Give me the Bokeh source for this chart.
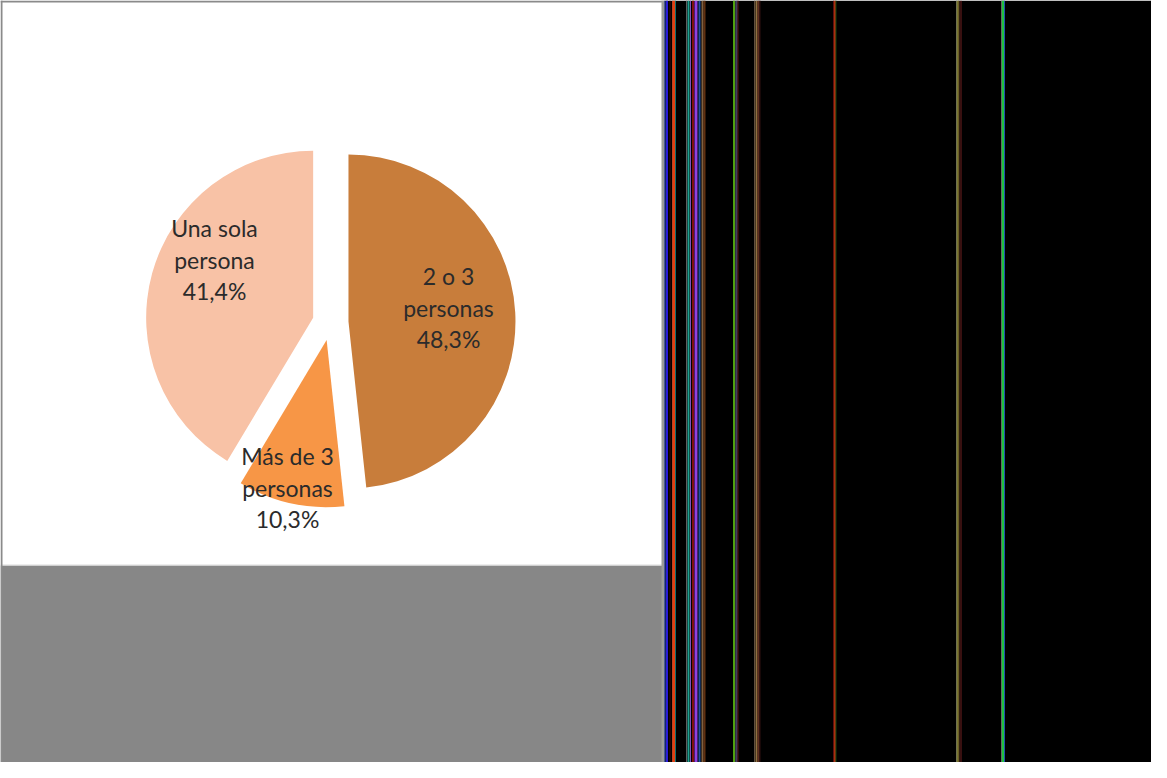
import numpy as np
from bokeh.plotting import figure
from bokeh.models import Range1d, ColumnDataSource
from bokeh.core.properties import value
from bokeh.embed import file_html
from bokeh.resources import INLINE

# ---- data ----
categories = ["2 o 3 personas", "Más de 3 personas", "Una sola persona"]
label_lines = [["2 o 3", "personas"], ["Más de 3", "personas"], ["Una sola", "persona"]]
percent_labels = ["48,3%", "10,3%", "41,4%"]
shares = [48.3, 10.3, 41.4]
colors = ["#C87D3B", "#F79646", "#F8C2A6"]

# decorative vertical stripes in the dark panel (page x, width px, colour)
stripe_x = [672.5, 674.5, 677.5, 680.0, 681.5, 683.0, 694.0, 696.0, 698.0, 700.5, 703.5, 707.0, 710.0, 712.0,
            741.5, 743.5, 744.5, 745.5, 762.0, 764.0, 766.0, 767.5, 841.0, 842.5, 843.5,
            964.0, 965.5, 966.5, 968.5, 1009.0, 1010.5, 1012.0]
stripe_w = [1, 2, 1, 1, 2, 1, 1, 2, 1, 2, 3, 2, 2, 2,
            2, 1, 1, 1, 1, 2, 2, 1, 1, 1.5, 1,
            1, 1.5, 1, 1, 1, 2, 1]
stripe_c = ["#3050c0", "#2a1cd8", "#3a0808", "#c04020", "#e04010", "#107070", "#606060", "#20a090", "#8050c0",
            "#801010", "#9040e0", "#2050a0", "#806040", "#603010",
            "#50a010", "#606080", "#505080", "#5a1010", "#605040", "#907040", "#603020", "#301010",
            "#601010", "#e04010", "#104010",
            "#707050", "#a0a040", "#604020", "#702020", "#607060", "#20c040", "#2050b0"]

W, H = 1151, 762
PAGE_H = 778


def Y(py):
    return PAGE_H - py


p = figure(width=W, height=H, x_range=Range1d(8, 8 + W), y_range=Range1d(8, 8 + H),
           output_backend="svg", toolbar_location=None, min_border=0)
p.axis.visible = False
p.grid.visible = False
p.outline_line_color = None
p.background_fill_color = "white"
p.border_fill_color = "white"

# panels
p.quad(left=[8], right=[670], top=[Y(573)], bottom=[8], fill_color="#878787", line_color=None)
p.quad(left=[8], right=[670], top=[Y(572)], bottom=[Y(573)], fill_color="#dcdcdc", line_color=None)
p.quad(left=[8], right=[10], top=[Y(8)], bottom=[8], fill_color="#8a8a8a", line_color=None)
p.quad(left=[8], right=[672], top=[Y(8)], bottom=[Y(10)], fill_color="#8a8a8a", line_color=None)
p.quad(left=[669], right=[672], top=[Y(8)], bottom=[8], fill_color="#9a9a9a", line_color=None)
p.quad(left=[672], right=[8 + W], top=[Y(8)], bottom=[8], fill_color="black", line_color=None)
p.vbar(x=stripe_x, width=stripe_w, top=Y(8), bottom=8, fill_color=stripe_c, line_color=None)

# pie
cx, cy, R, explode = 338, Y(330), 167, 18
fr = np.array(shares) / sum(shares)
cum = np.concatenate([[0], np.cumsum(fr)])
start = np.pi / 2 - 2 * np.pi * cum[1:]
end = np.pi / 2 - 2 * np.pi * cum[:-1]
mid = (start + end) / 2
xs = cx + explode * np.cos(mid)
ys = cy + explode * np.sin(mid)
src = ColumnDataSource(dict(x=xs, y=ys, start=start, end=end, color=colors, cat=categories))
p.wedge(x="x", y="y", radius=R, start_angle="start", end_angle="end", fill_color="color",
        line_color=None, source=src)

# labels: block centres (page coords)
label_cx = [456, 295, 222]
label_cy = [315, 495, 267]
lx, ly, lt = [], [], []
for i in range(3):
    lines = label_lines[i] + [percent_labels[i]]
    n = len(lines)
    for j, t in enumerate(lines):
        lx.append(label_cx[i])
        ly.append(Y(label_cy[i] + (j - (n - 1) / 2) * 31.5))
        lt.append(t)
p.text(x=lx, y=ly, text=lt, text_align="center", text_baseline="middle",
       text_font=value("Lato"), text_font_size="23px", text_color="#2b2b2b")

open("out.html", "w").write(file_html(p, INLINE))
